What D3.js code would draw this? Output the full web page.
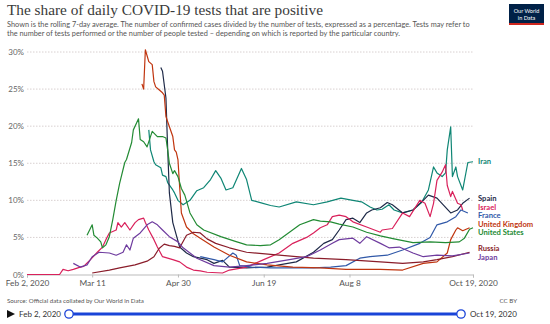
<!DOCTYPE html>
<html><head><meta charset="utf-8">
<script src="https://cdn.jsdelivr.net/npm/d3@7"></script>
<style>body{margin:0;background:#fff} svg{display:block} text{font-family:Lato, "Noto Sans", sans-serif}</style>
</head><body><svg id="c" width="550" height="324"></svg>
<script>
const xTickDates = ["Feb 2","Mar 11","Apr 30","Jun 19","Aug 8","Oct 19"];
const xTickLabels = ["Feb 2, 2020","Mar 11","Apr 30","Jun 19","Aug 8","Oct 19, 2020"];
const yTicks = [0,5,10,15,20,25,30];
const countries = ["Iran","Spain","Israel","France","United Kingdom","United States","Russia","Japan"];
const colors = ["#0f8675","#1f2a48","#d9215b","#3058a8","#c0350f","#238b34","#8a1d2a","#6e3b9e"];

const iran = [["Apr 13",19.5],["Apr 14",16.8],["Apr 16",15.2],["Apr 17",14.8],["Apr 20",14.4],["Apr 21",13.4],["Apr 23",13.2],["Apr 24",12.4],["Apr 27",11.4],["Apr 28",11.0],["Apr 30",10.0],["May 3",9.4],["May 5",9.7],["May 7",10.0],["May 11",11.3],["May 15",11.7],["May 19",12.8],["May 22",14.0],["May 25",13.0],["May 28",11.4],["Jun 1",11.7],["Jun 6",14.3],["Jun 9",12.8],["Jun 12",10.0],["Jun 17",9.7],["Jun 23",9.3],["Jun 28",9.1],["Jul 8",9.8],["Jul 18",9.4],["Jul 26",9.8],["Aug 3",10.3],["Aug 10",10.0],["Aug 15",9.8],["Aug 20",9.1],["Aug 24",8.7],["Aug 27",8.8],["Aug 31",9.4],["Sep 3",8.7],["Sep 8",8.3],["Sep 14",8.7],["Sep 19",9.7],["Sep 23",11.4],["Sep 26",14.5],["Sep 28",13.7],["Oct 1",13.2],["Oct 3",13.7],["Oct 4",16.8],["Oct 6",19.9],["Oct 7",13.2],["Oct 9",14.5],["Oct 10",13.2],["Oct 13",11.4],["Oct 16",15.1],["Oct 19",15.2]];
const spain = [["Apr 20",27.9],["Apr 21",27.4],["Apr 23",23.8],["Apr 24",17.0],["Apr 25",11.0],["Apr 27",7.0],["May 1",3.7],["May 5",2.9],["May 9",2.4],["May 13",2.2],["May 17",2.0],["May 21",1.5],["May 26",1.9],["May 30",1.0],["Jun 9",0.9],["Jun 21",1.0],["Jun 28",1.3],["Jul 8",1.7],["Jul 18",3.0],["Jul 24",4.2],["Jul 29",4.7],["Aug 2",6.0],["Aug 6",7.4],["Aug 10",7.6],["Aug 14",7.0],["Aug 18",8.3],["Aug 21",8.7],["Aug 26",9.0],["Aug 30",9.7],["Sep 2",9.4],["Sep 8",8.3],["Sep 14",8.7],["Sep 20",10.0],["Sep 23",10.7],["Sep 28",10.3],["Oct 6",8.3],["Oct 10",8.7],["Oct 13",9.6],["Oct 17",10.3]];
const israel = [["Feb 2",0.0],["Feb 21",0.0],["Feb 23",0.7],["Feb 26",0.5],["Feb 29",0.7],["Mar 4",1.0],["Mar 6",1.1],["Mar 10",2.0],["Mar 14",3.0],["Mar 17",3.7],["Mar 19",4.7],["Mar 21",5.6],["Mar 25",6.0],["Mar 26",7.0],["Mar 28",6.4],["Mar 30",7.0],["Apr 2",6.0],["Apr 5",7.0],["Apr 7",7.4],["Apr 10",7.6],["Apr 11",7.0],["Apr 13",6.0],["Apr 16",4.7],["Apr 18",3.7],["Apr 21",2.4],["Apr 27",2.0],["May 1",1.7],["May 5",1.0],["May 9",0.6],["May 13",0.5],["May 17",0.3],["May 26",0.2],["May 30",0.6],["Jun 9",1.0],["Jun 19",2.0],["Jun 28",2.9],["Jul 6",4.2],["Jul 14",5.0],["Jul 18",5.6],["Jul 22",6.3],["Jul 26",6.7],["Jul 29",7.8],["Aug 2",8.0],["Aug 6",7.8],["Aug 10",7.1],["Aug 18",6.4],["Aug 26",5.7],["Aug 27",6.0],["Sep 2",6.2],["Sep 8",8.3],["Sep 12",7.8],["Sep 18",10.0],["Sep 21",9.6],["Sep 24",7.8],["Sep 26",9.6],["Sep 28",12.7],["Oct 1",13.8],["Oct 3",14.8],["Oct 4",12.0],["Oct 6",10.5],["Oct 7",11.2],["Oct 10",9.6],["Oct 12",9.4],["Oct 13",8.7]];
const france = [["May 13",2.4],["May 17",2.2],["May 21",2.0],["May 26",1.7],["Jun 1",2.9],["Jun 3",2.6],["Jun 5",1.2],["Jun 12",1.0],["Jun 23",0.9],["Jul 4",0.9],["Jul 18",0.9],["Jul 28",1.0],["Aug 6",1.2],["Aug 14",2.2],["Aug 20",2.4],["Aug 30",2.6],["Sep 8",3.3],["Sep 18",4.2],["Sep 24",5.0],["Sep 28",6.7],["Oct 4",7.1],["Oct 9",7.8],["Oct 12",8.7],["Oct 16",8.3]];
const unitedKingdom = [["Apr 9",25.7],["Apr 10",25.0],["Apr 11",30.3],["Apr 13",28.7],["Apr 15",28.3],["Apr 16",26.0],["Apr 17",25.3],["Apr 19",24.9],["Apr 21",24.5],["Apr 22",24.2],["Apr 23",21.3],["Apr 24",20.6],["Apr 27",18.6],["Apr 28",16.8],["Apr 29",16.5],["Apr 30",15.5],["May 1",11.8],["May 2",8.3],["May 5",6.4],["May 9",5.5],["May 13",4.9],["May 21",3.7],["May 30",2.6],["Jun 9",1.7],["Jun 21",1.3],["Jul 6",1.0],["Jul 22",0.9],["Aug 6",0.7],["Aug 26",0.7],["Sep 8",0.6],["Sep 20",1.5],["Sep 28",1.7],["Oct 4",2.9],["Oct 6",4.7],["Oct 9",6.0],["Oct 10",6.3],["Oct 13",5.9],["Oct 17",6.3]];
const unitedStates = [["Mar 8",5.3],["Mar 11",6.7],["Mar 12",5.3],["Mar 14",4.9],["Mar 16",4.4],["Mar 17",3.6],["Mar 19",4.0],["Mar 21",5.1],["Mar 23",7.4],["Mar 25",10.0],["Mar 27",12.3],["Mar 30",15.1],["Mar 31",15.5],["Apr 3",17.8],["Apr 4",19.5],["Apr 6",20.5],["Apr 7",21.0],["Apr 8",18.2],["Apr 10",17.9],["Apr 12",17.2],["Apr 15",19.3],["Apr 18",18.6],["Apr 21",18.6],["Apr 23",18.4],["Apr 24",16.8],["Apr 25",15.0],["Apr 27",13.6],["Apr 28",14.0],["Apr 30",13.2],["May 2",11.6],["May 4",10.7],["May 7",8.3],["May 11",6.7],["May 15",6.0],["May 25",5.1],["Jun 2",4.5],["Jun 9",4.0],["Jun 17",3.9],["Jun 23",4.0],["Jun 28",4.7],["Jul 4",5.7],["Jul 10",6.7],["Jul 18",7.4],["Jul 22",7.2],["Jul 28",7.1],["Aug 2",6.8],["Aug 10",6.4],["Aug 18",5.7],["Aug 26",5.2],["Sep 3",4.8],["Sep 14",4.3],["Sep 24",4.4],["Oct 3",4.3],["Oct 11",4.4],["Oct 14",4.9],["Oct 17",6.1],["Oct 19",6.3]];
const russia = [["Mar 11",0.2],["Mar 21",0.6],["Mar 27",0.9],["Apr 5",1.3],["Apr 12",1.8],["Apr 16",2.4],["Apr 19",3.5],["Apr 22",4.1],["Apr 25",3.9],["Apr 28",3.8],["May 1",3.6],["May 5",5.3],["May 9",5.7],["May 13",5.6],["May 17",4.8],["May 22",4.2],["May 30",3.6],["Jun 9",3.0],["Jun 28",2.6],["Jul 18",2.2],["Aug 6",2.0],["Aug 26",1.7],["Sep 8",1.5],["Sep 20",1.7],["Sep 28",2.0],["Oct 7",2.4],["Oct 17",3.0]];
const japan = [["Feb 29",1.5],["Mar 4",1.0],["Mar 8",1.3],["Mar 11",2.4],["Mar 15",3.0],["Mar 21",2.9],["Mar 25",2.6],["Mar 29",3.0],["Mar 31",4.0],["Apr 2",3.3],["Apr 4",4.9],["Apr 8",5.6],["Apr 12",6.7],["Apr 15",7.1],["Apr 18",6.7],["Apr 21",6.0],["Apr 25",5.1],["Apr 30",4.4],["May 3",3.6],["May 7",2.9],["May 11",2.2],["May 21",1.2],["May 30",1.0],["Jun 9",1.2],["Jun 21",1.5],["Jul 4",2.0],["Jul 14",2.4],["Jul 22",3.3],["Jul 29",4.2],["Aug 2",4.7],["Aug 10",4.9],["Aug 14",4.2],["Aug 18",5.1],["Aug 26",4.2],["Aug 31",3.6],["Sep 6",3.7],["Sep 14",2.9],["Sep 20",2.4],["Sep 28",2.6],["Oct 7",2.5],["Oct 17",2.9]];
const seriesData = [iran, spain, israel, france, unitedKingdom, unitedStates, russia, japan];

const parse = s => d3.timeParse("%b %d %Y")(s + " 2020");
const svg = d3.select("#c");

const x = d3.scaleTime().domain([parse("Feb 2"), parse("Oct 19")]).range([27, 473]);
const y = d3.scaleLinear().domain([0, 30]).range([274.5, 52]);

// Title & subtitle
svg.append("text").attr("x", 7).attr("y", 15)
  .style("font-family", "'Liberation Serif', serif").attr("font-size", 15.3).attr("fill", "#3a3a3a")
  .text("The share of daily COVID-19 tests that are positive");
const sub = ["Shown is the rolling 7-day average. The number of confirmed cases divided by the number of tests, expressed as a percentage. Tests may refer to",
  "the number of tests performed or the number of people tested – depending on which is reported by the particular country."];
sub.forEach((t, i) => svg.append("text").attr("x", 7).attr("y", 27 + i * 9).attr("font-size", 7.35).attr("fill", "#555").text(t));

// Logo
const logo = svg.append("g");
logo.append("rect").attr("x", 509).attr("y", 4).attr("width", 35).attr("height", 21).attr("fill", "#002147");
logo.append("rect").attr("x", 509).attr("y", 23).attr("width", 35).attr("height", 2).attr("fill", "#ce261e");
logo.append("text").attr("x", 526.5).attr("y", 12.5).attr("text-anchor", "middle").attr("font-size", 5.5).attr("fill", "#fff").text("Our World");
logo.append("text").attr("x", 526.5).attr("y", 19.5).attr("text-anchor", "middle").attr("font-size", 5.5).attr("fill", "#fff").text("in Data");

// Y grid & labels
const yAxis = svg.append("g").attr("transform", "translate(27,0)")
  .call(d3.axisLeft(y).tickValues(yTicks).tickFormat(d => d + "%").tickSize(0).tickPadding(3));
yAxis.select(".domain").remove();
yAxis.selectAll("text").attr("font-size", 8).attr("fill", "#666").style("font-family", "Lato");
svg.append("g").selectAll("line").data(yTicks.filter(d => d > 0)).join("line")
  .attr("x1", 27).attr("x2", 473).attr("y1", d => y(d)).attr("y2", d => y(d))
  .attr("stroke", "#d8d0d0").attr("stroke-dasharray", "1.5,1.5");

// X axis
const xAxis = svg.append("g").attr("transform", "translate(0,274.5)")
  .call(d3.axisBottom(x).tickValues(xTickDates.map(parse)).tickFormat((d, i) => xTickLabels[i]).tickSize(3).tickPadding(3));
xAxis.select(".domain").attr("stroke", "#bbb");
xAxis.selectAll(".tick line").attr("stroke", "#bbb");
xAxis.selectAll("text").attr("font-size", 8.3).attr("fill", "#555").style("font-family", "Lato");

// Lines
const line = d3.line().x(d => x(parse(d[0]))).y(d => y(d[1]));
svg.append("g").selectAll("path").data(seriesData).join("path")
  .attr("d", line).attr("fill", "none").attr("stroke", (d, i) => colors[i])
  .attr("stroke-width", 1.2).attr("stroke-linejoin", "round");

// Labels with collision avoidance
const labels = countries.map((c, i) => ({name: c, color: colors[i], target: y(seriesData[i][seriesData[i].length - 1][1])}));
const ordered = labels.slice().sort((a, b) => a.target - b.target);
const gap = 8.5;
let clusters = ordered.map(l => ({items: [l], target: l.target}));
function pos(cl) { const n = cl.items.length; const mean = d3.mean(cl.items, d => d.target); return mean - gap * (n - 1) / 2; }
let merged = true;
while (merged) {
  merged = false;
  for (let i = 0; i < clusters.length - 1; i++) {
    const a = clusters[i], b = clusters[i + 1];
    if (pos(a) + gap * (a.items.length - 1) + gap > pos(b)) {
      clusters.splice(i, 2, {items: a.items.concat(b.items)});
      merged = true; break;
    }
  }
}
clusters.forEach(cl => { const s = pos(cl); cl.items.forEach((l, j) => l.y = s + j * gap); });
svg.append("g").selectAll("text").data(labels).join("text")
  .attr("x", 478).attr("y", d => d.y).attr("dy", "0.35em").attr("font-size", 7.6).attr("font-weight", 700)
  .attr("fill", d => d.color).text(d => d.name);

// Footer
svg.append("text").attr("x", 7).attr("y", 303).attr("font-size", 6.2).attr("fill", "#555").text("Source: Official data collated by Our World in Data");
svg.append("text").attr("x", 517).attr("y", 303).attr("text-anchor", "end").attr("font-size", 6.2).attr("fill", "#555").text("CC BY");

// Timeline
svg.append("path").attr("d", "M7,310L15,314L7,318Z").attr("fill", "#111");
svg.append("text").attr("x", 19).attr("y", 317).attr("font-size", 8).attr("fill", "#333").text("Feb 2, 2020");
svg.append("line").attr("x1", 69).attr("x2", 461).attr("y1", 314).attr("y2", 314).attr("stroke", "#1a44d8").attr("stroke-width", 3);
[69, 461].forEach(cx => svg.append("circle").attr("cx", cx).attr("cy", 314).attr("r", 4.2).attr("fill", "#fff").attr("stroke", "#1a44d8").attr("stroke-width", 1.3));
svg.append("text").attr("x", 470).attr("y", 317).attr("font-size", 8).attr("fill", "#333").text("Oct 19, 2020");
</script></body></html>
